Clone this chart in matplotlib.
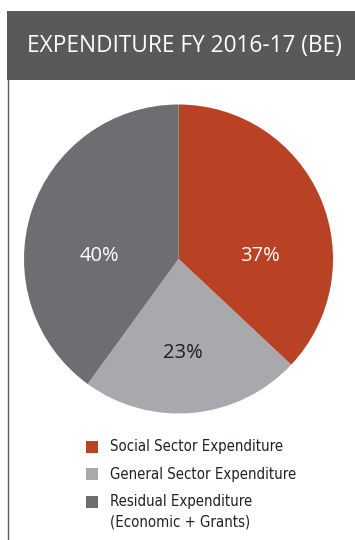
import matplotlib.pyplot as plt
from matplotlib.patches import Rectangle
from matplotlib.lines import Line2D

# data
labels = ['Social Sector Expenditure', 'General Sector Expenditure',
          'Residual Expenditure\n(Economic + Grants)']
shares = [37, 23, 40]
colors = ['#B94124', '#A8A9AD', '#6D6E72']
text_colors = ['white', '#231F20', 'white']
# label positions (axes fraction)
label_pos = [(0.765, 0.51), (0.515, 0.195), (0.245, 0.51)]

W, H = 355, 540
fig = plt.figure(figsize=(W / 100, H / 100), dpi=100)
fig.patch.set_facecolor('white')

def fx(px):
    return px / W

def fy(py):
    return 1 - py / H

# header band
fig.add_artist(Rectangle((fx(7), fy(80)), 1 - fx(7), fy(11) - fy(80),
                         transform=fig.transFigure, color='#58595B', lw=0))
fig.text(fx(184), fy(46), 'EXPENDITURE FY 2016-17 (BE)', color='white',
         fontsize=16.3, family='Open Sans', ha='center', va='center')
fig.add_artist(Line2D([fx(7.5), fx(7.5)], [fy(80), 0], transform=fig.transFigure,
                      color='#58595B', lw=1))

# pie
cx, cy, r = 178.5, 259, 154.5
ax = fig.add_axes([fx(cx - r), fy(cy + r), 2 * r / W, 2 * r / H])
wedges, _ = ax.pie(shares, colors=colors, startangle=90, counterclock=False,
                   wedgeprops=dict(linewidth=0))
ax.set_xlim(-1, 1)
ax.set_ylim(-1, 1)
for (x, y), s, tc in zip(label_pos, shares, text_colors):
    ax.text(x, y, f'{s}%', transform=ax.transAxes, color=tc, fontsize=14.5,
            family='Open Sans', ha='center', va='center')

# legend
leg_y = [447, 474, 502]
for y, lab, c in zip(leg_y, labels, colors):
    fig.add_artist(Rectangle((fx(86), fy(y + 6)), fx(12), 12 / H,
                             transform=fig.transFigure, color=c, lw=0))
    multi = '\n' in lab
    fig.text(fx(110), fy(y - 8) if multi else fy(y), lab, color='#231F20',
             fontsize=10.7, fontstretch='condensed',
             family='DejaVu Sans', ha='left', va='top' if multi else 'center',
             linespacing=1.45)

fig.savefig('out.png', dpi=100)
